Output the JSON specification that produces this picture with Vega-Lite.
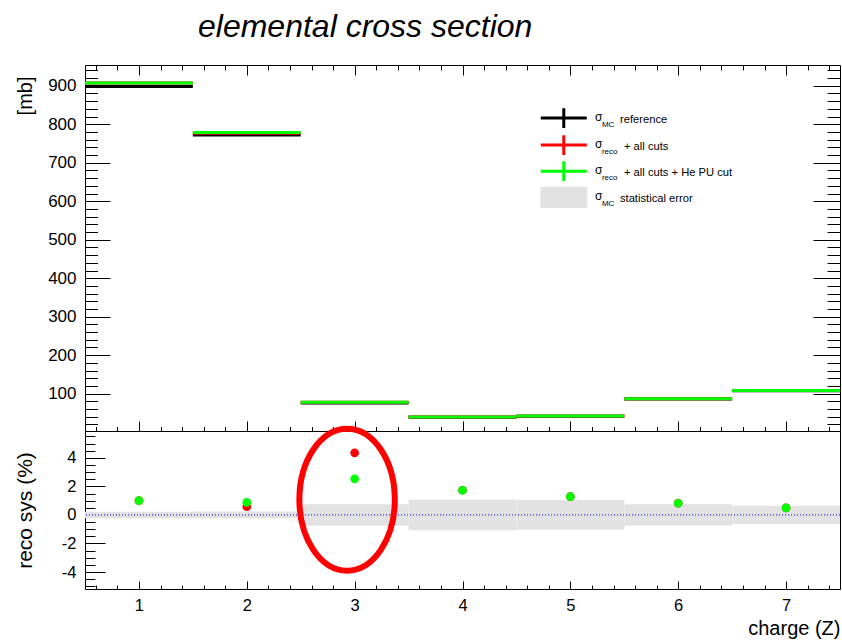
{
  "$schema": "https://vega.github.io/schema/vega-lite/v6.json",
  "autosize": {"type": "pad"},
  "padding": {"left": 13, "top": 10, "right": 2, "bottom": 4},
  "background": "white",
  "bounds": "flush",
  "spacing": 0,
  "title": {"text": "elemental cross section", "font": "Liberation Sans", "fontSize": 32, "fontStyle": "italic", "fontWeight": "normal", "color": "black", "anchor": "start", "frame": "group", "dx": 113, "offset": 17},
  "config": {
    "font": "Liberation Sans",
    "view": {"stroke": "black", "strokeWidth": 1},
    "axis": {"domain": false, "grid": false, "tickColor": "black", "tickWidth": 1, "labelColor": "black", "labelFont": "Liberation Sans", "titleFont": "Liberation Sans", "titleColor": "black", "titleFontWeight": "normal", "labelOverlap": false, "zindex": 1}
  },
  "datasets": {
    "bars": [
      {"series": "ref", "lo": 0.5, "hi": 1.5, "v": 898},
      {"series": "ref", "lo": 1.5, "hi": 2.5, "v": 772},
      {"series": "ref", "lo": 2.5, "hi": 3.5, "v": 76},
      {"series": "ref", "lo": 3.5, "hi": 4.5, "v": 39},
      {"series": "ref", "lo": 4.5, "hi": 5.5, "v": 41.5},
      {"series": "ref", "lo": 5.5, "hi": 6.5, "v": 86.3},
      {"series": "ref", "lo": 6.5, "hi": 7.5, "v": 107.5},
      {"series": "reco", "lo": 0.5, "hi": 1.5, "v": 907},
      {"series": "reco", "lo": 1.5, "hi": 2.5, "v": 776.5},
      {"series": "reco", "lo": 2.5, "hi": 3.5, "v": 77.5},
      {"series": "reco", "lo": 3.5, "hi": 4.5, "v": 39.7},
      {"series": "reco", "lo": 4.5, "hi": 5.5, "v": 42.0},
      {"series": "reco", "lo": 5.5, "hi": 6.5, "v": 87.0},
      {"series": "reco", "lo": 6.5, "hi": 7.5, "v": 108.0},
      {"series": "recoHe", "lo": 0.5, "hi": 1.5, "v": 907},
      {"series": "recoHe", "lo": 1.5, "hi": 2.5, "v": 778.8},
      {"series": "recoHe", "lo": 2.5, "hi": 3.5, "v": 77.9},
      {"series": "recoHe", "lo": 3.5, "hi": 4.5, "v": 39.7},
      {"series": "recoHe", "lo": 4.5, "hi": 5.5, "v": 42.0},
      {"series": "recoHe", "lo": 5.5, "hi": 6.5, "v": 87.0},
      {"series": "recoHe", "lo": 6.5, "hi": 7.5, "v": 108.0}
    ],
    "legend": [
      {"series": "ref", "y": 816, "sub": "MC", "rest": "reference"},
      {"series": "reco", "y": 746, "sub": "reco", "rest": "+ all cuts"},
      {"series": "recoHe", "y": 678, "sub": "reco", "rest": "+ all cuts + He PU cut"},
      {"series": "stat", "y": 610, "sub": "MC", "rest": "statistical error"}
    ],
    "band": [
      {"lo": 0.5, "hi": 1.5, "emin": -0.23, "emax": 0.23},
      {"lo": 1.5, "hi": 2.5, "emin": -0.24, "emax": 0.24},
      {"lo": 2.5, "hi": 3.5, "emin": -0.75, "emax": 0.75},
      {"lo": 3.5, "hi": 4.5, "emin": -1.07, "emax": 1.07},
      {"lo": 4.5, "hi": 5.5, "emin": -1.04, "emax": 1.04},
      {"lo": 5.5, "hi": 6.5, "emin": -0.74, "emax": 0.74},
      {"lo": 6.5, "hi": 7.5, "emin": -0.64, "emax": 0.64}
    ],
    "sys": [
      {"series": "reco", "z": 1, "sys": 1.0},
      {"series": "reco", "z": 2, "sys": 0.58},
      {"series": "reco", "z": 3, "sys": 4.35},
      {"series": "reco", "z": 4, "sys": 1.73},
      {"series": "reco", "z": 5, "sys": 1.28},
      {"series": "reco", "z": 6, "sys": 0.82},
      {"series": "reco", "z": 7, "sys": 0.49},
      {"series": "recoHe", "z": 1, "sys": 1.0},
      {"series": "recoHe", "z": 2, "sys": 0.88},
      {"series": "recoHe", "z": 3, "sys": 2.53},
      {"series": "recoHe", "z": 4, "sys": 1.73},
      {"series": "recoHe", "z": 5, "sys": 1.28},
      {"series": "recoHe", "z": 6, "sys": 0.82},
      {"series": "recoHe", "z": 7, "sys": 0.49}
    ],
    "mark": [
      {"z": 2.93, "sys": 1.07}
    ],
    "zero": [
      {"y": 0}
    ]
  },
  "vconcat": [
    {
      "width": 755,
      "height": 366,
      "resolve": {"axis": {"x": "independent", "y": "independent"}},
      "layer": [
        {
          "data": {"name": "bars"},
          "mark": {"type": "rule", "strokeWidth": 3},
          "encoding": {
            "x": {"field": "lo", "type": "quantitative", "scale": {"domain": [0.5, 7.5], "nice": false, "zero": false},
              "axis": {"orient": "bottom", "title": null, "labels": false, "values": [0.6,0.8,1,1.2,1.4,1.6,1.8,2,2.2,2.4,2.6,2.8,3,3.2,3.4,3.6,3.8,4,4.2,4.4,4.6,4.8,5,5.2,5.4,5.6,5.8,6,6.2,6.4,6.6,6.8,7,7.2,7.4],
                "tickSize": {"condition": {"test": "abs(datum.value - round(datum.value)) < 0.001", "value": -10}, "value": -4.5}}},
            "x2": {"field": "hi"},
            "y": {"field": "v", "type": "quantitative", "scale": {"domain": [3, 954], "nice": false, "zero": false},
              "axis": {"orient": "left", "values": [20,40,60,80,100,120,140,160,180,200,220,240,260,280,300,320,340,360,380,400,420,440,460,480,500,520,540,560,580,600,620,640,660,680,700,720,740,760,780,800,820,840,860,880,900,920,940],
                "tickSize": {"condition": {"test": "datum.value % 100 === 0", "value": -25}, "value": -12.5},
                "labelExpr": "datum.value % 100 === 0 ? datum.label : ''",
                "labelFontSize": 17, "labelPadding": 34,
                "title": "[mb]", "titleFontSize": 20, "titleAnchor": "end", "titleAlign": "right", "titleAngle": -90, "titleBaseline": "alphabetic", "titleX": -54, "titleY": 11}},
            "color": {"field": "series", "type": "nominal", "scale": {"domain": ["ref", "reco", "recoHe", "stat"], "range": ["#000000", "#ff0000", "#00ff00", "#e2e2e2"]}, "legend": null}
          }
        },
        {
          "data": {"name": "bars"},
          "mark": {"type": "rule", "opacity": 0},
          "encoding": {
            "x": {"field": "lo", "type": "quantitative",
              "axis": {"orient": "top", "title": null, "labels": false, "values": [0.6,0.8,1,1.2,1.4,1.6,1.8,2,2.2,2.4,2.6,2.8,3,3.2,3.4,3.6,3.8,4,4.2,4.4,4.6,4.8,5,5.2,5.4,5.6,5.8,6,6.2,6.4,6.6,6.8,7,7.2,7.4],
                "tickSize": {"condition": {"test": "abs(datum.value - round(datum.value)) < 0.001", "value": -10}, "value": -5}}},
            "x2": {"field": "hi"},
            "y": {"field": "v", "type": "quantitative",
              "axis": {"orient": "right", "title": null, "labels": false, "values": [20,40,60,80,100,120,140,160,180,200,220,240,260,280,300,320,340,360,380,400,420,440,460,480,500,520,540,560,580,600,620,640,660,680,700,720,740,760,780,800,820,840,860,880,900,920,940],
                "tickSize": {"condition": {"test": "datum.value % 100 === 0", "value": -27}, "value": -13}}}
          }
        },
        {
          "data": {"name": "legend"},
          "transform": [{"filter": "datum.series !== 'stat'"}],
          "mark": {"type": "point", "shape": "M-1,0H1M0,-0.43V0.43", "filled": false, "strokeWidth": 3, "size": 2116, "opacity": 1},
          "encoding": {
            "x": {"datum": 4.939, "type": "quantitative", "axis": null},
            "y": {"field": "y", "type": "quantitative", "axis": null},
            "color": {"field": "series", "type": "nominal", "legend": null}
          }
        },
        {
          "data": {"name": "legend"},
          "transform": [{"filter": "datum.series === 'stat'"}],
          "mark": {"type": "point", "shape": "M-1,-0.45H1V0.45H-1Z", "filled": true, "fill": "#e2e2e2", "strokeWidth": 0, "size": 2209, "opacity": 1},
          "encoding": {
            "x": {"datum": 4.94, "type": "quantitative", "axis": null},
            "y": {"field": "y", "type": "quantitative", "axis": null}
          }
        },
        {
          "data": {"name": "legend"},
          "mark": {"type": "text", "text": "σ", "align": "left", "baseline": "alphabetic", "fontSize": 12, "dy": 3, "color": "black"},
          "encoding": {
            "x": {"datum": 5.228, "type": "quantitative", "axis": null},
            "y": {"field": "y", "type": "quantitative", "axis": null}
          }
        },
        {
          "data": {"name": "legend"},
          "mark": {"type": "text", "align": "left", "baseline": "alphabetic", "fontSize": 8, "dx": 7, "dy": 8.5, "color": "black"},
          "encoding": {
            "x": {"datum": 5.228, "type": "quantitative", "axis": null},
            "y": {"field": "y", "type": "quantitative", "axis": null},
            "text": {"field": "sub"}
          }
        },
        {
          "data": {"name": "legend"},
          "transform": [{"filter": "datum.sub === 'MC'"}],
          "mark": {"type": "text", "align": "left", "baseline": "alphabetic", "fontSize": 11.2, "dx": 25, "dy": 4.5, "color": "black"},
          "encoding": {
            "x": {"datum": 5.228, "type": "quantitative", "axis": null},
            "y": {"field": "y", "type": "quantitative", "axis": null},
            "text": {"field": "rest"}
          }
        },
        {
          "data": {"name": "legend"},
          "transform": [{"filter": "datum.sub === 'reco'"}],
          "mark": {"type": "text", "align": "left", "baseline": "alphabetic", "fontSize": 11.2, "dx": 29, "dy": 4.5, "color": "black"},
          "encoding": {
            "x": {"datum": 5.228, "type": "quantitative", "axis": null},
            "y": {"field": "y", "type": "quantitative", "axis": null},
            "text": {"field": "rest"}
          }
        }
      ]
    },
    {
      "width": 755,
      "height": 158,
      "resolve": {"axis": {"x": "independent", "y": "independent"}},
      "layer": [
        {
          "data": {"name": "band"},
          "mark": {"type": "rect", "fill": "#e2e2e2"},
          "encoding": {
            "x": {"field": "lo", "type": "quantitative", "scale": {"domain": [0.5, 7.5], "nice": false, "zero": false},
              "axis": {"orient": "bottom", "values": [0.6,0.8,1,1.2,1.4,1.6,1.8,2,2.2,2.4,2.6,2.8,3,3.2,3.4,3.6,3.8,4,4.2,4.4,4.6,4.8,5,5.2,5.4,5.6,5.8,6,6.2,6.4,6.6,6.8,7,7.2,7.4],
                "tickSize": {"condition": {"test": "abs(datum.value - round(datum.value)) < 0.001", "value": -8}, "value": -4},
                "labelExpr": "abs(datum.value - round(datum.value)) < 0.001 ? '' + round(datum.value) : ''",
                "labelFontSize": 16.5, "labelPadding": 16,
                "title": "charge (Z)", "titleFontSize": 20, "titleAnchor": "end", "titleAlign": "right", "titleBaseline": "alphabetic", "titleX": 755, "titleY": 45}},
            "x2": {"field": "hi"},
            "y": {"field": "emin", "type": "quantitative", "scale": {"domain": [-5.19, 5.88], "nice": false, "zero": false},
              "axis": {"orient": "left", "values": [-5,-4.5,-4,-3.5,-3,-2.5,-2,-1.5,-1,-0.5,0,0.5,1,1.5,2,2.5,3,3.5,4,4.5,5,5.5],
                "tickSize": {"condition": {"test": "abs(datum.value % 2) < 0.001", "value": -20}, "value": -10},
                "labelExpr": "abs(datum.value % 2) < 0.001 ? '' + datum.value : ''",
                "labelFontSize": 16.5, "labelPadding": 29,
                "title": "reco sys (%)", "titleFontSize": 21, "titleAlign": "center", "titleAngle": -90, "titleBaseline": "alphabetic", "titleX": -54, "titleY": 79}},
            "y2": {"field": "emax"}
          }
        },
        {
          "data": {"name": "zero"},
          "mark": {"type": "rule", "color": "#0000ff", "strokeWidth": 1, "strokeDash": [1, 2]},
          "encoding": {
            "y": {"field": "y", "type": "quantitative", "axis": null}
          }
        },
        {
          "data": {"name": "sys"},
          "mark": {"type": "point", "shape": "circle", "filled": true, "size": 75, "opacity": 1},
          "encoding": {
            "x": {"field": "z", "type": "quantitative", "axis": null},
            "y": {"field": "sys", "type": "quantitative", "axis": null},
            "color": {"field": "series", "type": "nominal", "scale": {"domain": ["reco", "recoHe"], "range": ["#ff0000", "#00ff00"]}, "legend": null}
          }
        },
        {
          "data": {"name": "mark"},
          "mark": {"type": "point", "shape": "M0,-1C0.371,-1,0.672,-0.552,0.672,0C0.672,0.552,0.371,1,0,1C-0.371,1,-0.672,0.552,-0.672,0C-0.672,-0.552,-0.371,-1,0,-1Z", "filled": false, "stroke": "#ff0000", "strokeWidth": 6, "size": 20164, "opacity": 1},
          "encoding": {
            "x": {"field": "z", "type": "quantitative", "axis": null},
            "y": {"field": "sys", "type": "quantitative", "axis": null}
          }
        }
      ]
    }
  ]
}
